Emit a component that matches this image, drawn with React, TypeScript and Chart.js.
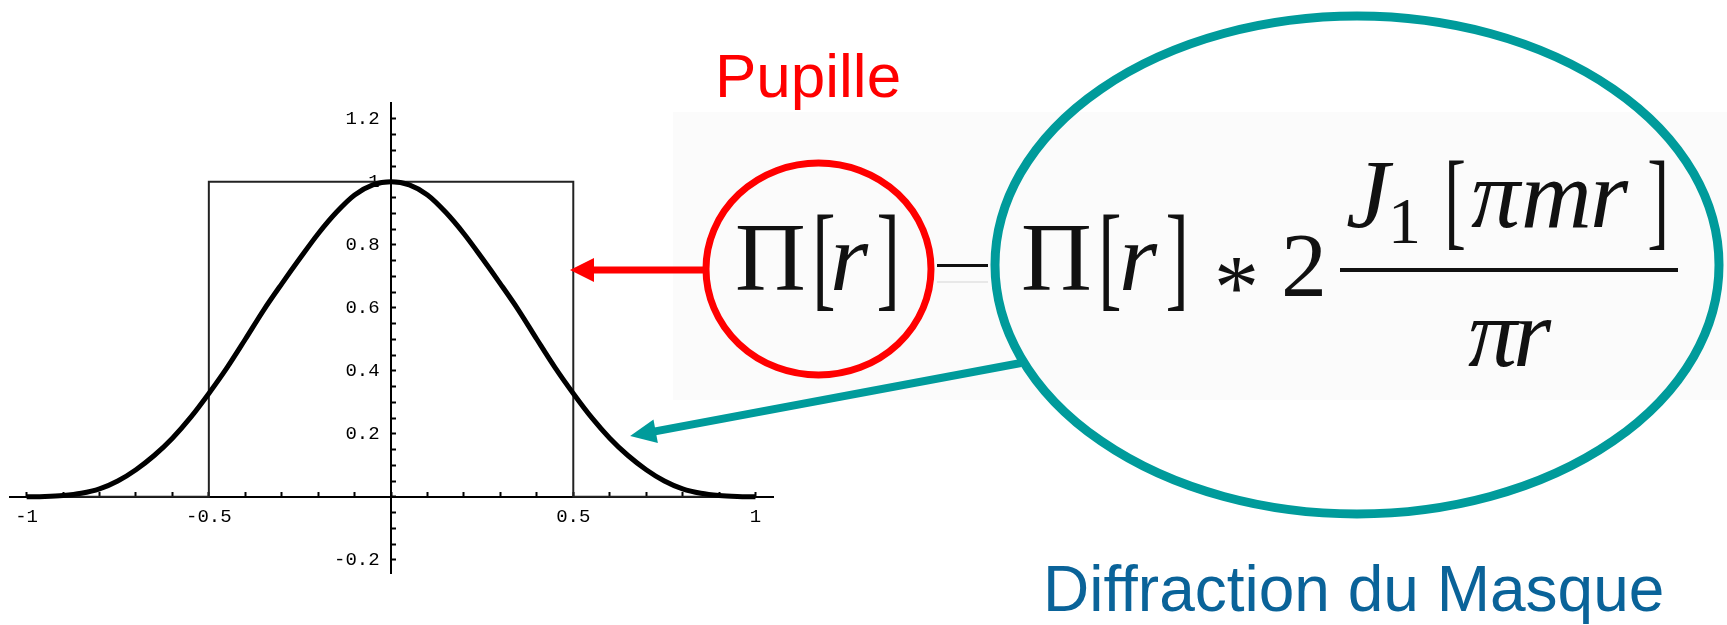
import React, { useEffect, useRef } from "react";
import { Chart, registerables } from "chart.js";

Chart.register(...registerables);

// Radial coordinate samples for the diffracted profile
const radius = [
  -1, -0.95, -0.9, -0.85, -0.8, -0.75, -0.7, -0.65, -0.6, -0.55, -0.5,
  -0.45, -0.4, -0.35, -0.3, -0.25, -0.2, -0.15, -0.1, -0.05, 0,
  0.05, 0.1, 0.15, 0.2, 0.25, 0.3, 0.35, 0.4, 0.45, 0.5,
  0.55, 0.6, 0.65, 0.7, 0.75, 0.8, 0.85, 0.9, 0.95, 1,
];
// Pupil convolved with the mask's diffraction pattern
const diffractedProfile = [
  0, 0.001, 0.004, 0.011, 0.025, 0.05, 0.086, 0.131, 0.186, 0.252, 0.328,
  0.41, 0.5, 0.592, 0.676, 0.757, 0.835, 0.903, 0.958, 0.99, 1,
  0.99, 0.958, 0.903, 0.835, 0.757, 0.676, 0.592, 0.5, 0.41, 0.328,
  0.252, 0.186, 0.131, 0.086, 0.05, 0.025, 0.011, 0.004, 0.001, 0,
];
// Pupil function Π[r]
const pupilRadius = [-1, -0.5, -0.5, 0.5, 0.5, 1];
const pupilValue = [0, 0, 1, 1, 0, 0];

// Axis ticks (minor marks) and the labelled ones
const xTickValues = [
  -1, -0.9, -0.8, -0.7, -0.6, -0.5, -0.4, -0.3, -0.2, -0.1, 0,
  0.1, 0.2, 0.3, 0.4, 0.5, 0.6, 0.7, 0.8, 0.9, 1,
];
const xLabelValues = [-1, -0.5, 0.5, 1];
const xTickLabels = ["-1", "-0.5", "0.5", "1"];
const yTickValues = [
  -0.2, -0.15, -0.1, -0.05, 0, 0.05, 0.1, 0.15, 0.2, 0.25, 0.3, 0.35, 0.4,
  0.45, 0.5, 0.55, 0.6, 0.65, 0.7, 0.75, 0.8, 0.85, 0.9, 0.95, 1, 1.05,
  1.1, 1.15, 1.2,
];
const yLabelValues = [-0.2, 0.2, 0.4, 0.6, 0.8, 1, 1.2];
const yTickLabels = ["-0.2", "0.2", "0.4", "0.6", "0.8", "1", "1.2"];

// Points on the plot that the two callout arrows designate
const pupilArrowTarget = { x: 0.491, y: 0.72 };
const maskArrowTarget = { x: 0.656, y: 0.193 };

const labelFor = (v: number, values: number[], labels: string[]) => {
  const i = values.findIndex((w) => Math.abs(w - v) < 1e-9);
  return i >= 0 ? labels[i] : "";
};

type Glyph = {
  text: string;
  left: number;
  base?: number;
  cy?: number;
  size: number;
  italic?: boolean;
  sx?: number;
};

// Typeset pieces of  Π[r] = Π[r] * 2 J1[πmr] / πr
const formula: Glyph[] = [
  { text: "Π", left: 737, base: 290, size: 98 },
  { text: "[", left: 817, base: 295, size: 117, sx: 0.6 },
  { text: "r", left: 833, base: 290, size: 98, italic: true },
  { text: "]", left: 879, base: 295, size: 117, sx: 0.6 },
  { text: "Π", left: 1023, base: 290, size: 98 },
  { text: "[", left: 1103, base: 295, size: 117, sx: 0.6 },
  { text: "r", left: 1122, base: 290, size: 98, italic: true },
  { text: "]", left: 1168, base: 295, size: 117, sx: 0.6 },
  { text: "*", left: 1218, cy: 275, size: 90 },
  { text: "2", left: 1285, base: 296, size: 92 },
  { text: "J", left: 1347, base: 227, size: 98, italic: true },
  { text: "1", left: 1393, base: 243, size: 66 },
  { text: "[", left: 1449, base: 236, size: 109, sx: 0.6 },
  { text: "π", left: 1471, base: 227, size: 98, italic: true },
  { text: "m", left: 1524, base: 227, size: 98, italic: true },
  { text: "r", left: 1593, base: 227, size: 98, italic: true },
  { text: "]", left: 1649, base: 236, size: 109, sx: 0.6 },
  { text: "π", left: 1468, base: 366, size: 98, italic: true },
  { text: "r", left: 1516, base: 366, size: 98, italic: true },
];

const drawGlyph = (ctx: CanvasRenderingContext2D, g: Glyph) => {
  ctx.save();
  ctx.font = `${g.italic ? "italic " : ""}${g.size}px "Liberation Serif", "DejaVu Serif", serif`;
  ctx.textAlign = "left";
  ctx.textBaseline = "alphabetic";
  const m = ctx.measureText(g.text);
  let y = g.base ?? 0;
  if (g.cy !== undefined) {
    y = g.cy + (m.actualBoundingBoxAscent - m.actualBoundingBoxDescent) / 2;
  }
  ctx.translate(g.left, y);
  ctx.scale(g.sx ?? 1, 1);
  ctx.fillText(g.text, m.actualBoundingBoxLeft, 0);
  ctx.restore();
};

const drawText = (
  ctx: CanvasRenderingContext2D,
  text: string,
  left: number,
  base: number,
  font: string,
  color: string
) => {
  ctx.save();
  ctx.font = font;
  ctx.fillStyle = color;
  ctx.textAlign = "left";
  ctx.textBaseline = "alphabetic";
  const m = ctx.measureText(text);
  ctx.fillText(text, left + m.actualBoundingBoxLeft, base);
  ctx.restore();
};

const drawArrow = (
  ctx: CanvasRenderingContext2D,
  x0: number,
  y0: number,
  x1: number,
  y1: number,
  color: string,
  width: number,
  headLen: number,
  headHalf: number
) => {
  const a = Math.atan2(y1 - y0, x1 - x0);
  const bx = x1 - headLen * Math.cos(a);
  const by = y1 - headLen * Math.sin(a);
  ctx.save();
  ctx.strokeStyle = color;
  ctx.fillStyle = color;
  ctx.lineWidth = width;
  ctx.lineCap = "butt";
  ctx.beginPath();
  ctx.moveTo(x0, y0);
  ctx.lineTo(bx + Math.cos(a) * 2, by + Math.sin(a) * 2);
  ctx.stroke();
  ctx.beginPath();
  ctx.moveTo(x1, y1);
  ctx.lineTo(bx - headHalf * Math.sin(a), by + headHalf * Math.cos(a));
  ctx.lineTo(bx + headHalf * Math.sin(a), by - headHalf * Math.cos(a));
  ctx.closePath();
  ctx.fill();
  ctx.restore();
};

const calloutPlugin = {
  id: "callouts",
  beforeDraw(chart: any) {
    const ctx: CanvasRenderingContext2D = chart.ctx;
    ctx.save();
    ctx.fillStyle = "#ffffff";
    ctx.fillRect(0, 0, chart.width, chart.height);
    ctx.fillStyle = "#fbfbfb";
    ctx.fillRect(673, 112, chart.width - 673, 288);
    ctx.restore();
  },
  afterDraw(chart: any) {
    const ctx: CanvasRenderingContext2D = chart.ctx;
    const xs = chart.scales.x;
    const ys = chart.scales.y;

    // Formula
    ctx.save();
    ctx.fillStyle = "#111111";
    formula.forEach((g) => drawGlyph(ctx, g));
    ctx.fillRect(1340, 268, 338, 4);
    ctx.fillRect(937, 264, 51, 3);
    ctx.fillStyle = "#e8e8e8";
    ctx.fillRect(937, 281, 51, 2);
    ctx.restore();

    // Pupil callout
    ctx.save();
    ctx.strokeStyle = "#ff0000";
    ctx.lineWidth = 7;
    ctx.beginPath();
    ctx.ellipse(818.5, 269, 112.5, 106, 0, 0, Math.PI * 2);
    ctx.stroke();
    ctx.restore();
    drawArrow(
      ctx,
      706,
      270,
      xs.getPixelForValue(pupilArrowTarget.x),
      ys.getPixelForValue(pupilArrowTarget.y),
      "#ff0000",
      7,
      24,
      12
    );

    // Mask diffraction callout
    ctx.save();
    ctx.strokeStyle = "#009b9b";
    ctx.lineWidth = 9;
    ctx.beginPath();
    ctx.ellipse(1357, 265, 362, 249, 0, 0, Math.PI * 2);
    ctx.stroke();
    ctx.restore();
    drawArrow(
      ctx,
      1021,
      363,
      xs.getPixelForValue(maskArrowTarget.x),
      ys.getPixelForValue(maskArrowTarget.y),
      "#009b9b",
      8,
      26,
      12
    );

    drawText(ctx, "Pupille", 720, 97, '62px "Liberation Sans", Arial, sans-serif', "#ff0000");
    drawText(
      ctx,
      "Diffraction du Masque",
      1048,
      611,
      '64px "Liberation Sans", Arial, sans-serif',
      "#0a6399"
    );
  },
};

export default function App() {
  const canvasRef = useRef<HTMLCanvasElement | null>(null);

  useEffect(() => {
    const canvas = canvasRef.current;
    if (!canvas) return;
    const tickFont = { family: '"Liberation Mono", "Courier New", monospace', size: 19 };
    const chart = new Chart(canvas, {
      type: "scatter",
      data: {
        datasets: [
          {
            label: "Π[r] * 2 J1[πmr]/πr",
            data: radius.map((r, i) => ({ x: r, y: diffractedProfile[i] })),
            showLine: true,
            borderColor: "#000000",
            borderWidth: 5,
            pointRadius: 0,
            cubicInterpolationMode: "monotone",
            order: 0,
          },
          {
            label: "Π[r]",
            data: pupilRadius.map((r, i) => ({ x: r, y: pupilValue[i] })),
            showLine: true,
            borderColor: "#222222",
            borderWidth: 2,
            pointRadius: 0,
            tension: 0,
            order: 1,
          },
        ],
      },
      options: {
        responsive: false,
        animation: false,
        devicePixelRatio: 1,
        layout: { padding: { left: 10, right: 954, top: 103, bottom: 52 } },
        plugins: {
          legend: { display: false },
          tooltip: { enabled: false },
          title: { display: false },
        },
        scales: {
          x: {
            type: "linear",
            min: -1.045,
            max: 1.048,
            position: { y: 0 },
            afterBuildTicks: (s: any) => {
              s.ticks = xTickValues.map((value) => ({ value }));
            },
            ticks: {
              autoSkip: false,
              maxRotation: 0,
              padding: 15,
              color: "#000000",
              font: tickFont,
              callback: (v: any) => labelFor(Number(v), xLabelValues, xTickLabels),
            },
            grid: {
              drawOnChartArea: false,
              drawTicks: true,
              tickLength: -6,
              tickWidth: 2,
              tickColor: "#000000",
            },
            border: { display: true, color: "#000000", width: 2 },
          },
          y: {
            type: "linear",
            min: -0.242,
            max: 1.25,
            position: { x: 0 },
            afterBuildTicks: (s: any) => {
              s.ticks = yTickValues.map((value) => ({ value }));
            },
            ticks: {
              autoSkip: false,
              padding: 10,
              color: "#000000",
              font: tickFont,
              // a trailing no-break space keeps the labels clear of the axis line
              callback: (v: any) => {
                const t = labelFor(Number(v), yLabelValues, yTickLabels);
                return t ? t + "\u00a0" : "";
              },
            },
            grid: {
              drawOnChartArea: false,
              drawTicks: true,
              tickLength: -6,
              tickWidth: 2,
              tickColor: "#000000",
            },
            border: { display: true, color: "#000000", width: 2 },
          },
        },
      } as any,
      plugins: [calloutPlugin],
    });
    return () => chart.destroy();
  }, []);

  return (
    <div
      style={{
        position: "absolute",
        left: 0,
        top: 0,
        width: 1727,
        height: 625,
        background: "#ffffff",
        overflow: "hidden",
      }}
    >
      <canvas
        ref={canvasRef}
        width={1727}
        height={625}
        style={{ display: "block", width: 1727, height: 625 }}
      />
    </div>
  );
}
